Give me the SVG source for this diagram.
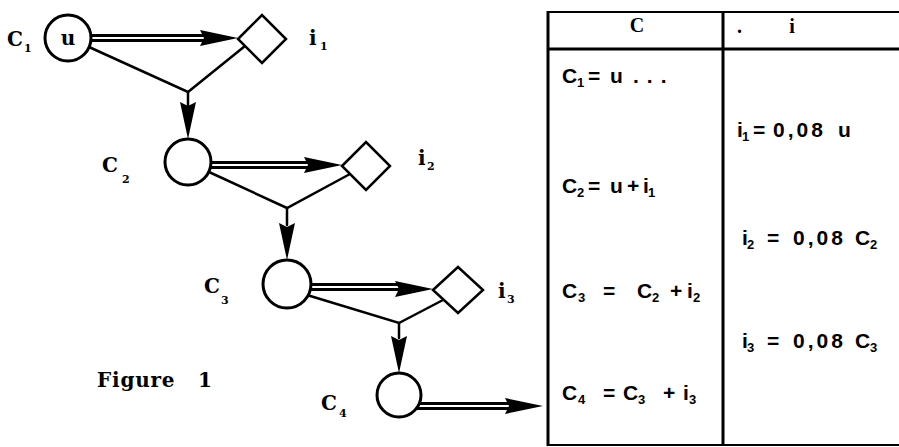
<svg xmlns="http://www.w3.org/2000/svg" width="899" height="447" viewBox="0 0 899 447">
<style>
.dbl-o{stroke:#000;stroke-width:8;fill:none}
.dbl-i{stroke:#fff;stroke-width:2;fill:none}
.ln{stroke:#000;stroke-width:2.5;fill:none;stroke-linecap:round}
.head{fill:#000}
.circ{fill:#fff;stroke:#000;stroke-width:3}
.dia{fill:#fff;stroke:#000;stroke-width:2.5}
.lbl{font-family:"DejaVu Serif","Liberation Serif",serif;font-weight:bold;font-size:20px;fill:#000}
.sub{font-size:11px}
.tbl{font-family:"Liberation Sans",Arial,sans-serif;font-weight:bold;font-size:21px;fill:#000}
.tsub{font-size:13px}
.num{letter-spacing:3px}
.hdr{font-family:"Liberation Serif","DejaVu Serif",serif;font-weight:bold;font-size:20px;fill:#000}
.rule{stroke:#000;fill:none}
</style>
<defs>
<polygon id="hHead" points="0,0 -38,-8 -34,0 -38,8"/>
<polygon id="vHead" points="0,0 -8,-37 0,-33 8,-37"/>
</defs>
<rect width="899" height="447" fill="#fff"/>

<g id="connectors">
  <path class="dbl-o" d="M80,38 H205"/>
  <path class="dbl-i" d="M80,38 H205"/>
  <use href="#hHead" class="head" x="238" y="38"/>
  <path class="ln" d="M89,47 L188,92 L245,46"/>
  <path class="ln" d="M188,92 V106"/>
  <use href="#vHead" class="head" x="188" y="139"/>

  <path class="dbl-o" d="M200,165 H309"/>
  <path class="dbl-i" d="M200,165 H309"/>
  <use href="#hHead" class="head" x="342" y="165"/>
  <path class="ln" d="M209,172 L287,208 L350,174"/>
  <path class="ln" d="M287,208 V225"/>
  <use href="#vHead" class="head" x="287" y="260"/>

  <path class="dbl-o" d="M300,287 H400"/>
  <path class="dbl-i" d="M300,287 H400"/>
  <use href="#hHead" class="head" x="433" y="289"/>
  <path class="ln" d="M307,295 L399,323 L443,300"/>
  <path class="ln" d="M399,323 V338"/>
  <use href="#vHead" class="head" x="399" y="373"/>

  <path class="dbl-o" d="M410,406 H510"/>
  <path class="dbl-i" d="M410,406 H510"/>
  <use href="#hHead" class="head" x="543" y="406"/>
</g>

<g id="node-C1">
  <circle class="circ" cx="68" cy="38" r="23"/>
  <text class="lbl" x="68" y="45" text-anchor="middle" font-size="21">u</text>
  <text class="lbl" x="7" y="46">C<tspan class="sub" x="24" y="52">1</tspan></text>
</g>
<g id="node-i1">
  <polygon class="dia" points="238,39 262,15 286,39 262,63"/>
  <text class="lbl" x="309" y="45">i<tspan class="sub" x="320" y="50">1</tspan></text>
</g>
<g id="node-C2">
  <circle class="circ" cx="188" cy="162" r="23"/>
  <text class="lbl" x="102" y="172">C<tspan class="sub" x="122" y="183">2</tspan></text>
</g>
<g id="node-i2">
  <polygon class="dia" points="342,166 366,142 390,166 366,190"/>
  <text class="lbl" x="418" y="165">i<tspan class="sub" x="427" y="170">2</tspan></text>
</g>
<g id="node-C3">
  <circle class="circ" cx="287" cy="284" r="24"/>
  <text class="lbl" x="204" y="293">C<tspan class="sub" x="221" y="304">3</tspan></text>
</g>
<g id="node-i3">
  <polygon class="dia" points="433,290 458,267 483,290 458,313"/>
  <text class="lbl" x="498" y="298">i<tspan class="sub" x="507" y="303">3</tspan></text>
</g>
<g id="node-C4">
  <circle class="circ" cx="399" cy="395" r="22"/>
  <text class="lbl" x="321" y="410">C<tspan class="sub" x="339" y="417">4</tspan></text>
</g>

<text class="lbl" x="97" y="387" font-size="21" letter-spacing="0.8">Figure<tspan x="198">1</tspan></text>

<g id="table">
  <path class="rule" stroke-width="2" d="M547,12 H899"/>
  <path class="rule" stroke-width="3" d="M547,49 H899"/>
  <path class="rule" stroke-width="3" d="M548,11 V446"/>
  <path class="rule" stroke-width="3" d="M723,11 V446"/>
  <path class="rule" stroke-width="2" d="M547,445 H899"/>
  <text class="hdr" x="637" y="32" text-anchor="middle">C</text>
  <text class="hdr" x="737" y="33" font-size="14">.</text>
  <text class="hdr" x="792" y="33" text-anchor="middle">i</text>

  <text class="tbl" x="562" y="83">C<tspan class="tsub" x="577" y="87">1</tspan><tspan x="588" y="83">=</tspan><tspan x="610">u</tspan><tspan x="633" letter-spacing="8">...</tspan></text>
  <text class="tbl" x="737" y="137">i<tspan class="tsub" x="742" y="141">1</tspan><tspan x="753" y="137">=</tspan><tspan class="num" x="773">0,08</tspan><tspan x="838">u</tspan></text>
  <text class="tbl" x="562" y="193">C<tspan class="tsub" x="577" y="197">2</tspan><tspan x="588" y="193">=</tspan><tspan x="610">u</tspan><tspan x="627">+</tspan><tspan x="643">i</tspan><tspan class="tsub" x="648" y="197">1</tspan></text>
  <text class="tbl" x="742" y="245">i<tspan class="tsub" x="747" y="249">2</tspan><tspan x="767" y="245">=</tspan><tspan class="num" x="793">0,08</tspan><tspan x="855">C</tspan><tspan class="tsub" x="870" y="249">2</tspan></text>
  <text class="tbl" x="562" y="298">C<tspan class="tsub" x="578" y="302">3</tspan><tspan x="603" y="298">=</tspan><tspan x="637">C</tspan><tspan class="tsub" x="652" y="302">2</tspan><tspan x="670" y="298">+</tspan><tspan x="687">i</tspan><tspan class="tsub" x="693" y="302">2</tspan></text>
  <text class="tbl" x="742" y="348">i<tspan class="tsub" x="747" y="352">3</tspan><tspan x="767" y="348">=</tspan><tspan class="num" x="793">0,08</tspan><tspan x="855">C</tspan><tspan class="tsub" x="870" y="352">3</tspan></text>
  <text class="tbl" x="562" y="400">C<tspan class="tsub" x="578" y="404">4</tspan><tspan x="603" y="400">=</tspan><tspan x="623">C</tspan><tspan class="tsub" x="638" y="404">3</tspan><tspan x="663" y="400">+</tspan><tspan x="683">i</tspan><tspan class="tsub" x="689" y="404">3</tspan></text>
</g>
</svg>
